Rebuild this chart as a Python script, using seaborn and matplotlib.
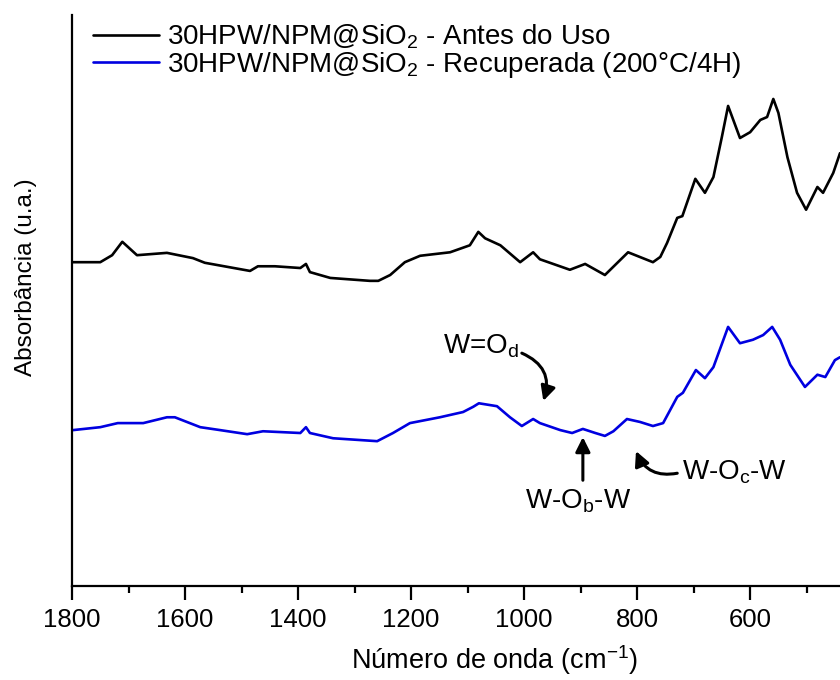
import numpy as np
import pandas as pd
import seaborn as sns
import matplotlib
matplotlib.use("Agg")
import matplotlib.pyplot as plt

# ---- data (arbitrary absorbance units) ----
wn_antes = [1800, 1750, 1729, 1711, 1685, 1632, 1586, 1565, 1485, 1471, 1441, 1396,
            1386, 1379, 1343, 1273, 1258, 1237, 1211, 1184, 1131, 1096, 1081, 1069,
            1042, 1007, 984, 972, 919, 892, 857, 816, 772, 759, 747, 729, 720, 697,
            680, 665, 650, 639, 618, 600, 582, 570, 559, 550, 534, 517, 501, 481,
            471, 453, 441]
abs_antes = [0.576, 0.576, 0.588, 0.611, 0.588, 0.592, 0.583, 0.575, 0.561, 0.569,
             0.569, 0.566, 0.573, 0.559, 0.549, 0.544, 0.544, 0.554, 0.576, 0.587,
             0.593, 0.605, 0.628, 0.617, 0.605, 0.576, 0.593, 0.581, 0.563, 0.573,
             0.554, 0.593, 0.576, 0.585, 0.609, 0.652, 0.655, 0.719, 0.695, 0.722,
             0.791, 0.844, 0.789, 0.799, 0.820, 0.825, 0.856, 0.832, 0.756, 0.695,
             0.666, 0.705, 0.695, 0.729, 0.763]

wn_recup = [1798, 1750, 1719, 1674, 1632, 1618, 1573, 1538, 1490, 1462, 1396, 1386,
            1379, 1338, 1260, 1232, 1202, 1149, 1108, 1090, 1080, 1048, 1025, 1004,
            984, 972, 936, 915, 896, 874, 857, 842, 818, 795, 772, 754, 729, 719,
            696, 680, 665, 639, 618, 595, 577, 561, 547, 529, 503, 481, 467, 450, 441]
abs_recup = [0.288, 0.293, 0.300, 0.300, 0.310, 0.310, 0.293, 0.288, 0.281, 0.286,
             0.283, 0.293, 0.283, 0.274, 0.269, 0.283, 0.300, 0.310, 0.319, 0.328,
             0.334, 0.329, 0.310, 0.295, 0.307, 0.300, 0.288, 0.283, 0.290, 0.283,
             0.278, 0.286, 0.307, 0.302, 0.295, 0.300, 0.345, 0.352, 0.391, 0.377,
             0.396, 0.465, 0.437, 0.443, 0.451, 0.465, 0.443, 0.400, 0.362, 0.383,
             0.379, 0.408, 0.413]

series_labels = [r"30HPW/NPM@SiO$_2$ - Antes do Uso",
                 r"30HPW/NPM@SiO$_2$ - Recuperada (200°C/4H)"]
series_colors = ["#000000", "#0000e0"]
x_ticks = [1800, 1600, 1400, 1200, 1000, 800, 600]

# ---- style ----
sns.set_theme(style="white")
plt.rcParams["font.family"] = ["Liberation Sans", "DejaVu Sans"]
plt.rcParams["mathtext.fontset"] = "custom"
plt.rcParams["mathtext.rm"] = "Liberation Sans"
plt.rcParams["mathtext.it"] = "Liberation Sans:italic"
plt.rcParams["mathtext.bf"] = "Liberation Sans:bold"
plt.rcParams["mathtext.default"] = "regular"
plt.rcParams["text.color"] = "black"
plt.rcParams["axes.labelcolor"] = "black"
plt.rcParams["xtick.color"] = "black"

FS_TEXT = 20
FS_TICK = 18.5
FS_XLAB = 19.5
FS_YLAB = 17.5

df = pd.concat([
    pd.DataFrame({"wn": wn_antes, "abs": abs_antes, "serie": series_labels[0]}),
    pd.DataFrame({"wn": wn_recup, "abs": abs_recup, "serie": series_labels[1]}),
])

fig = plt.figure(figsize=(8.4, 6.8), dpi=100)
ax = fig.add_axes([72 / 840, 1 - 586 / 680, 1 - 72 / 840, (586 - 15) / 680])

sns.lineplot(data=df, x="wn", y="abs", hue="serie", palette=series_colors,
             estimator=None, sort=False, linewidth=1.9, ax=ax)

ax.set_xlim(1800, 441)
ax.set_ylim((598 - 586) / 583, 1.0)
ax.set_xticks(x_ticks)
ax.set_xticks([1700, 1500, 1300, 1100, 900, 700, 500], minor=True)
ax.set_yticks([])
ax.tick_params(axis="x", which="major", direction="out", length=10, width=1.6,
               labelsize=FS_TICK, pad=6, bottom=True, color="black",
               labelcolor="black")
ax.tick_params(axis="x", which="minor", direction="out", length=5, width=1.6,
               bottom=True, color="black")
for s in ["top", "right"]:
    ax.spines[s].set_visible(False)
for s in ["left", "bottom"]:
    ax.spines[s].set_color("black")
    ax.spines[s].set_linewidth(1.6)

ax.set_xlabel(r"Número de onda (cm$^{-1}$)", fontsize=FS_XLAB)
ax.set_ylabel("Absorbância (u.a.)", fontsize=FS_YLAB)
ax.xaxis.set_label_coords(0.55, -0.10)
ax.yaxis.set_label_coords(-0.045, 0.54)

handles, labels = ax.get_legend_handles_labels()
ax.legend(handles, labels, loc="upper left", bbox_to_anchor=(0.006, 1.016),
          frameon=False, fontsize=FS_TEXT, handlelength=2.35, handletextpad=0.3,
          labelspacing=-0.05, borderaxespad=0.2)

# ---- annotations ----
arrow_kw = dict(arrowstyle="-|>", color="black", lw=2.2, mutation_scale=22,
                shrinkA=0, shrinkB=0)
ax.text(1143, 0.431, r"W=O$_d$", fontsize=FS_TEXT, ha="left", va="center")
ax.annotate("", xy=(966, 0.338), xytext=(1004, 0.420),
            arrowprops=dict(connectionstyle="arc3,rad=-0.45", **arrow_kw))

ax.text(904, 0.166, r"W-O$_b$-W", fontsize=FS_TEXT, ha="center", va="center")
ax.annotate("", xy=(896, 0.276), xytext=(896, 0.202),
            arrowprops=dict(connectionstyle="arc3,rad=0", **arrow_kw))

ax.text(720, 0.216, r"W-O$_c$-W", fontsize=FS_TEXT, ha="left", va="center")
ax.annotate("", xy=(802, 0.252), xytext=(729, 0.214),
            arrowprops=dict(connectionstyle="arc3,rad=-0.4", **arrow_kw))

fig.savefig("out.png", dpi=100)
